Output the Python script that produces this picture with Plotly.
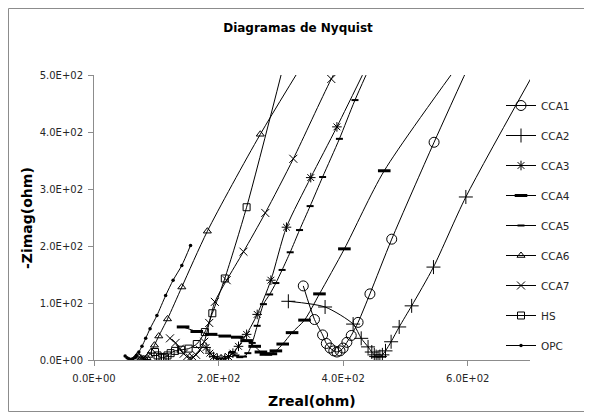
import plotly.graph_objects as go

# ---------------- data ----------------
cca1_x = [336, 354, 367, 373, 379, 385, 390, 395, 400, 406, 413, 424, 443, 478, 546, 620]
cca1_y = [130, 71, 44, 29, 21, 16, 14, 16, 21, 31, 43, 66, 116, 212, 382, 560]

cca2_x = [312, 371, 416, 429, 440, 446, 450, 453, 456, 459, 463, 468, 477, 490, 510, 545, 597, 725]
cca2_y = [103, 93, 63, 38, 23, 14, 9, 6, 5, 6, 9, 16, 32, 58, 95, 163, 286, 540]

cca3_x = [180, 186, 192, 198, 204, 210, 216, 223, 232, 245, 262, 284, 309, 348, 390, 440]
cca3_y = [22, 12, 6, 3, 2, 3, 6, 12, 24, 45, 80, 140, 233, 320, 409, 520]

cca4_x = [143, 165, 188, 210, 230, 245, 258, 268, 276, 284, 292, 303, 318, 338, 362, 402, 466, 640]
cca4_y = [58, 50, 45, 42, 40, 34, 24, 14, 10, 11, 16, 28, 48, 70, 116, 195, 332, 600]

cca5_x = [222, 228, 234, 240, 247, 254, 262, 272, 282, 292, 302, 315, 330, 347, 367, 394, 419, 470]
cca5_y = [14, 8, 5, 6, 12, 30, 60, 98, 115, 135, 158, 189, 228, 270, 321, 388, 456, 580]

cca6_x = [70, 73, 76, 79, 82, 85, 88, 92, 97, 104, 118, 141, 182, 267, 400]
cca6_y = [8, 5, 3, 2, 2, 4, 8, 15, 26, 42, 72, 128, 226, 396, 634]

cca7_x = [122, 131, 138, 144, 149, 154, 159, 164, 170, 177, 185, 194, 213, 240, 275, 320, 381, 440]
cca7_y = [38, 30, 20, 11, 6, 4, 5, 9, 18, 32, 65, 102, 140, 190, 258, 353, 493, 610]

hs_x = [98, 102, 106, 110, 114, 118, 123, 130, 140, 152, 165, 178, 190, 210, 245, 305]
hs_y = [14, 8, 5, 4, 5, 8, 12, 16, 18, 20, 28, 49, 82, 143, 268, 520]

opc_x = [50, 53, 56, 59, 62, 65, 68, 72, 77, 83, 90, 101, 115, 127, 141, 155]
opc_y = [7, 4, 2, 1, 2, 4, 8, 14, 24, 38, 55, 78, 113, 140, 166, 201]

series_names = ["CCA1", "CCA2", "CCA3", "CCA4", "CCA5", "CCA6", "CCA7", "HS", "OPC"]
series_x = [cca1_x, cca2_x, cca3_x, cca4_x, cca5_x, cca6_x, cca7_x, hs_x, opc_x]
series_y = [cca1_y, cca2_y, cca3_y, cca4_y, cca5_y, cca6_y, cca7_y, hs_y, opc_y]

x_tickvals = [0, 200, 400, 600]
x_ticktext = ["0.0E+00", "2.0E+02", "4.0E+02", "6.0E+02"]
y_tickvals = [0, 100, 200, 300, 400, 500]
y_ticktext = ["0.0E+00", "1.0E+02", "2.0E+02", "3.0E+02", "4.0E+02", "5.0E+02"]

# ---------------- styles ----------------
markers = [
    dict(symbol="circle-open", size=10, color="black", line=dict(width=1, color="black")),
    dict(symbol="cross-thin-open", size=10, color="black", line=dict(width=1, color="black")),
    dict(symbol="asterisk-open", size=8, color="black", line=dict(width=1, color="black")),
    dict(symbol="line-ew-open", size=9, color="black", line=dict(width=3, color="black")),
    dict(symbol="line-ew-open", size=5, color="black", line=dict(width=2, color="black")),
    dict(symbol="triangle-up-open", size=7, color="black", line=dict(width=1, color="black")),
    dict(symbol="x-thin-open", size=8, color="black", line=dict(width=1, color="black")),
    dict(symbol="square-open", size=7, color="black", line=dict(width=1, color="black")),
    dict(symbol="circle", size=3.5, color="black", line=dict(width=0, color="black")),
]

FONT = "DejaVu Sans"
fig = go.Figure()
for name, xs, ys, mk in zip(series_names, series_x, series_y, markers):
    fig.add_trace(go.Scatter(
        x=xs, y=ys, name=name, mode="lines+markers",
        line=dict(color="black", width=1, shape="spline", smoothing=0.7),
        marker=mk, legendgroup=name, cliponaxis=True,
    ))

# window-pixel layout (the page body adds an 8 px offset)
OFF = 8
W, H = 592, 412
L, R, T, B = 94 - OFF, 530 - OFF, 75 - OFF, 360 - OFF
pw, ph = R - L, B - T


def px_x(px):
    return (px - OFF - L) / pw


def px_y(py):
    return (B - (py - OFF)) / ph


axis_common = dict(
    showline=True, linecolor="#8c8c8c", linewidth=1,
    ticks="outside", ticklen=5, tickcolor="#8c8c8c",
    showgrid=False, zeroline=False,
    tickfont=dict(family=FONT, size=10, color="#262626"),
)

fig.update_layout(
    width=W, height=H, autosize=False,
    margin=dict(l=L, r=W - R, t=T, b=H - B, pad=0),
    paper_bgcolor="white", plot_bgcolor="white",
    xaxis=dict(range=[0, 700], tickvals=x_tickvals, ticktext=x_ticktext,
               ticklabelstandoff=4, **axis_common),
    yaxis=dict(range=[0, 500], tickvals=y_tickvals, ticktext=y_ticktext,
               ticklabelstandoff=3, **axis_common),
    title=dict(text="<b>Diagramas de Nyquist</b>", x=(298 - OFF) / W, xref="container", xanchor="center",
               y=1 - (28 - OFF) / H, yref="container", yanchor="middle",
               font=dict(family=FONT, size=12, color="black")),
    showlegend=True,
    legend=dict(x=px_x(501), xanchor="left", y=px_y(91), yanchor="top",
                traceorder="grouped", tracegroupgap=11,
                font=dict(family=FONT, size=10.5, color="#262626"),
                bgcolor="rgba(0,0,0,0)", borderwidth=0, itemwidth=30),
    annotations=[
        dict(text="<b>Zreal(ohm)</b>", x=px_x(312), y=px_y(401), xref="paper", yref="paper",
             showarrow=False, font=dict(family=FONT, size=14, color="black"),
             xanchor="center", yanchor="middle"),
        dict(text="<b>-Zimag(ohm)</b>", x=px_x(27), y=px_y(218), xref="paper", yref="paper",
             showarrow=False, textangle=-90, font=dict(family=FONT, size=14, color="black"),
             xanchor="center", yanchor="middle"),
    ],
    shapes=[dict(type="rect", xref="paper", yref="paper",
                 x0=px_x(8.5), x1=px_x(591.5), y0=px_y(411.5), y1=px_y(8.5),
                 line=dict(color="#8c8c8c", width=1), layer="below")],
)

fig.write_html("out.html")
